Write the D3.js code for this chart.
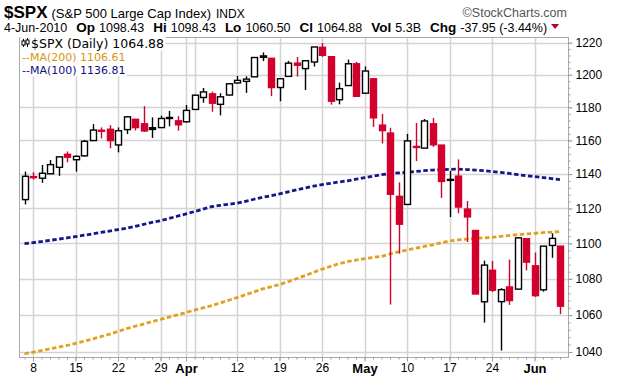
<!DOCTYPE html>
<html>
<head>
<meta charset="utf-8">
<script src="https://cdn.jsdelivr.net/npm/d3@7"></script>
<style>
  body { margin: 0; background: #fff; }
  svg { display: block; }
</style>
</head>
<body>
<svg id="chart" width="620" height="379"></svg>
<script>
// trading days shown, Mar 5 .. Jun 4 2010
const dates = [
  "2010-03-05","2010-03-08","2010-03-09","2010-03-10","2010-03-11","2010-03-12",
  "2010-03-15","2010-03-16","2010-03-17","2010-03-18","2010-03-19",
  "2010-03-22","2010-03-23","2010-03-24","2010-03-25","2010-03-26",
  "2010-03-29","2010-03-30","2010-03-31","2010-04-01",
  "2010-04-05","2010-04-06","2010-04-07","2010-04-08","2010-04-09",
  "2010-04-12","2010-04-13","2010-04-14","2010-04-15","2010-04-16",
  "2010-04-19","2010-04-20","2010-04-21","2010-04-22","2010-04-23",
  "2010-04-26","2010-04-27","2010-04-28","2010-04-29","2010-04-30",
  "2010-05-03","2010-05-04","2010-05-05","2010-05-06","2010-05-07",
  "2010-05-10","2010-05-11","2010-05-12","2010-05-13","2010-05-14",
  "2010-05-17","2010-05-18","2010-05-19","2010-05-20","2010-05-21",
  "2010-05-24","2010-05-25","2010-05-26","2010-05-27","2010-05-28",
  "2010-06-01","2010-06-02","2010-06-03","2010-06-04"
];
const opens = [
  1125.1,1138.4,1137.6,1140.2,1144.0,1151.7,
  1148.5,1150.8,1159.9,1166.1,1166.7,
  1157.3,1166.5,1172.7,1170.0,1167.6,
  1167.7,1173.8,1171.8,1171.2,
  1178.7,1186.0,1188.2,1181.8,1187.5,
  1194.9,1195.9,1198.7,1210.8,1210.2,
  1192.1,1199.0,1207.2,1203.8,1207.9,
  1217.1,1211.2,1184.6,1193.3,1206.8,
  1188.6,1197.5,1169.2,1164.4,1127.0,
  1122.3,1156.4,1155.4,1170.0,1157.2,
  1136.5,1138.8,1119.6,1107.3,1067.3,
  1084.8,1067.4,1075.5,1074.3,1102.6,
  1087.3,1073.9,1098.8,1098.4
];
const highs = [
  1141.5,1141.1,1145.4,1148.3,1150.2,1153.4,
  1151.0,1160.3,1169.8,1167.8,1169.2,
  1167.8,1174.7,1173.0,1180.7,1173.9,
  1174.9,1177.8,1174.6,1181.4,
  1187.7,1191.8,1189.6,1188.6,1194.7,
  1199.2,1199.0,1210.7,1213.9,1210.2,
  1197.9,1208.6,1211.0,1208.8,1217.3,
  1219.8,1211.2,1195.1,1209.4,1208.0,
  1205.1,1197.5,1176.0,1167.6,1135.1,
  1163.9,1170.5,1172.9,1173.6,1157.2,
  1141.9,1148.7,1124.3,1107.3,1090.2,
  1090.0,1074.8,1090.8,1103.5,1102.6,
  1094.8,1098.4,1105.7,1098.4
];
const lows = [
  1122.3,1136.8,1134.9,1140.1,1139.0,1147.0,
  1141.5,1150.4,1159.9,1161.2,1155.3,
  1152.9,1163.8,1166.0,1165.1,1161.5,
  1167.7,1168.5,1165.8,1170.7,
  1178.7,1182.8,1177.3,1175.1,1187.2,
  1194.7,1188.8,1198.7,1208.5,1186.8,
  1183.7,1199.0,1198.9,1190.6,1205.1,
  1211.1,1181.6,1181.8,1193.3,1186.3,
  1188.6,1168.1,1158.2,1065.8,1094.2,
  1122.3,1147.7,1155.4,1156.1,1126.1,
  1115.0,1117.2,1100.7,1071.6,1055.9,
  1072.7,1040.8,1065.6,1074.3,1084.8,
  1069.9,1072.9,1091.8,1060.5
];
const closes = [
  1138.7,1138.5,1140.5,1145.6,1150.2,1150.0,
  1150.5,1159.5,1166.2,1165.8,1159.9,
  1165.8,1174.2,1167.7,1165.7,1166.6,
  1173.2,1173.3,1169.4,1178.1,
  1187.4,1189.4,1182.5,1186.4,1194.4,
  1196.5,1197.3,1210.7,1211.7,1192.1,
  1197.5,1207.2,1205.9,1208.7,1217.3,
  1212.1,1183.7,1191.4,1206.8,1186.7,
  1202.3,1173.6,1165.9,1128.2,1110.9,
  1159.7,1155.8,1171.7,1157.4,1135.7,
  1136.9,1120.8,1115.1,1071.6,1087.7,
  1073.7,1074.0,1068.0,1103.1,1089.4,
  1070.7,1098.4,1102.8,1064.9
];
const prevClose = 1123.0; // close of the day before the first candle

const ma200 = [
  1039.0,1039.9,1040.8,1041.7,1042.6,1043.5,1044.6,1045.8,1047.0,1048.3,
  1049.6,1051.1,1052.6,1053.9,1055.1,1056.4,1057.7,1058.9,1060.1,1061.4,
  1062.7,1063.9,1065.2,1066.6,1068.1,1069.6,1071.2,1072.8,1074.4,1075.6,
  1076.8,1078.4,1080.1,1081.8,1083.6,1085.4,1087.0,1088.5,1089.6,1090.5,
  1091.3,1092.0,1092.6,1094.0,1095.1,1096.2,1097.2,1098.2,1099.1,1100.3,
  1101.3,1101.9,1102.4,1102.8,1103.1,1103.4,1103.9,1104.4,1104.9,1105.3,
  1105.7,1106.1,1106.4,1106.6
];
const ma100 = [
  1099.8,1100.4,1101.0,1101.7,1102.4,1103.1,1103.8,1104.6,1105.4,1106.2,
  1107.0,1107.8,1108.6,1109.7,1110.8,1111.9,1112.9,1114.2,1115.5,1116.8,
  1118.2,1119.6,1121.0,1121.7,1122.4,1123.0,1124.1,1125.3,1126.4,1127.4,
  1128.4,1129.6,1130.8,1131.9,1132.9,1133.8,1134.6,1135.4,1136.1,1137.0,
  1137.9,1138.8,1139.7,1140.2,1140.7,1141.1,1141.5,1142.0,1142.4,1142.6,
  1142.8,1143.0,1142.7,1142.4,1142.0,1141.6,1141.0,1140.4,1139.7,1139.1,
  1138.6,1138.0,1137.4,1136.8
];

const yTicks = [1040,1060,1080,1100,1120,1140,1160,1180,1200,1220];
const xLabelDates = ["2010-03-08","2010-03-15","2010-03-22","2010-03-29","2010-04-01",
  "2010-04-12","2010-04-19","2010-04-26","2010-05-03","2010-05-10","2010-05-17",
  "2010-05-24","2010-06-01"];
const xLabels = ["8","15","22","29","Apr","12","19","26","May","10","17","24","Jun"];
const xGridDates = xLabelDates.concat(["2010-04-05"]);
const monthLabels = ["Apr","May","Jun"];

const headQuote = [["", "4-Jun-2010"], ["Op", "1098.43"], ["Hi", "1098.43"], ["Lo", "1060.50"],
  ["Cl", "1064.88"], ["Vol", "5.3B"], ["Chg", "-37.95 (-3.44%)"]];
const legendRows = [
  {label: "$SPX (Daily) 1064.88", color: "#000"},
  {label: "--MA(200) 1106.61", color: "#d9960f"},
  {label: "--MA(100) 1136.81", color: "#101080"}
];

const upCol = "#000", dnCol = "#d2002c";
const pL = 19.5, pR = 568.5, pT = 37.5, pB = 357.5;

const svg = d3.select("#chart");
const x = d3.scalePoint().domain(dates).range([24.5, 560]);
const y = d3.scaleLog().domain([1040, 1220]).range([352, 42.7]);

// grid
svg.append("g").selectAll("line").data(yTicks).join("line")
  .attr("x1", pL).attr("x2", pR)
  .attr("y1", d => Math.round(y(d)) + 0.5).attr("y2", d => Math.round(y(d)) + 0.5)
  .attr("stroke", "#d4d4d4").attr("stroke-width", 1.5);

svg.append("g").selectAll("line").data(xGridDates).join("line")
  .attr("x1", d => Math.round(x(d)) + 0.5).attr("x2", d => Math.round(x(d)) + 0.5)
  .attr("y1", pT).attr("y2", pB)
  .attr("stroke", "#d4d4d4").attr("stroke-width", 1.5);

// moving averages
const line = d3.line().x((d, i) => x(dates[i])).y(d => y(d));
svg.append("path").datum(ma200).attr("d", line)
  .attr("fill", "none").attr("stroke", "#e0a020")
  .attr("stroke-width", 2.8).attr("stroke-dasharray", "4.5,2.5");
svg.append("path").datum(ma100).attr("d", line)
  .attr("fill", "none").attr("stroke", "#16168a")
  .attr("stroke-width", 2.8).attr("stroke-dasharray", "4.5,2.5");

// candles
const bars = dates.map((d, i) => ({
  date: d, o: opens[i], h: highs[i], l: lows[i], c: closes[i],
  pc: i === 0 ? prevClose : closes[i - 1]
}));
const col = d => d.c < d.pc ? dnCol : upCol;
const bw = 6;
const cg = svg.append("g").selectAll("g").data(bars).join("g");
cg.append("line")
  .attr("x1", d => Math.round(x(d.date)) + 0.5).attr("x2", d => Math.round(x(d.date)) + 0.5)
  .attr("y1", d => y(d.h)).attr("y2", d => y(d.l))
  .attr("stroke", col).attr("stroke-width", 1.4);
cg.append("rect")
  .attr("x", d => Math.round(x(d.date)) + 0.5 - bw / 2)
  .attr("y", d => y(Math.max(d.o, d.c)))
  .attr("width", bw)
  .attr("height", d => Math.max(1, Math.abs(y(d.o) - y(d.c))))
  .attr("fill", d => d.c >= d.o ? "#fff" : col(d))
  .attr("stroke", col).attr("stroke-width", 1.4);

// frame
svg.append("rect").attr("x", pL).attr("y", pT)
  .attr("width", pR - pL).attr("height", pB - pT)
  .attr("fill", "none").attr("stroke", "#aaa").attr("stroke-width", 1);

// right axis
const yAxis = svg.append("g").attr("transform", `translate(${pR},0)`)
  .call(d3.axisRight(y).tickValues(yTicks).tickFormat(d3.format("d")).tickSize(4).tickPadding(3));
const yMinor = svg.append("g").attr("transform", `translate(${pR},0)`)
  .call(d3.axisRight(y).tickValues(d3.range(1040, 1221, 4)).tickFormat("").tickSize(2));
[yAxis, yMinor].forEach(g => {
  g.select(".domain").remove();
  g.selectAll("line").attr("stroke", "#999");
});
yAxis.selectAll("text").attr("fill", "#000")
  .style("font", "12px 'Liberation Sans', Arial, sans-serif");

// bottom axis
const xMinor = svg.append("g").attr("transform", `translate(0,${pB})`)
  .call(d3.axisBottom(x).tickValues(dates).tickFormat("").tickSize(2));
const xAxis = svg.append("g").attr("transform", `translate(0,${pB})`)
  .call(d3.axisBottom(x).tickValues(xLabelDates)
    .tickFormat((d, i) => xLabels[i]).tickSize(4).tickPadding(2));
[xAxis, xMinor].forEach(g => {
  g.select(".domain").remove();
  g.selectAll("line").attr("stroke", "#999");
});
xAxis.selectAll("text").attr("fill", "#000")
  .style("font-family", "'Liberation Sans', Arial, sans-serif")
  .style("font-size", d => monthLabels.includes(xLabels[xLabelDates.indexOf(d)]) ? "13px" : "12px")
  .style("font-weight", d => monthLabels.includes(xLabels[xLabelDates.indexOf(d)]) ? "bold" : "normal");

// legend
const lg = svg.append("g");
legendRows.forEach((r, i) => {
  const fs = i === 0 ? 12.5 : 11;
  const by = [47.5, 60.5, 73.5][i];
  const tx = i === 0 ? 31 : 22;
  const t = lg.append("text").attr("x", tx).attr("y", by)
    .attr("fill", r.color)
    .style("font", `${fs}px 'DejaVu Sans', Verdana, sans-serif`)
    .text(r.label);
  const bb = t.node().getBBox();
  lg.insert("rect", "text").attr("x", pL + 0.5).attr("y", bb.y)
    .attr("width", bb.x + bb.width - pL + 1).attr("height", bb.height)
    .attr("fill", "#fff");
});
// small candle glyph in front of the price row
const ic = lg.append("g").attr("stroke", "#000").attr("stroke-width", 1);
[[23.5, 39, 47, 41, 45], [27.5, 38, 47, 40, 44]].forEach(([cx, hi, lo, b1, b2]) => {
  ic.append("line").attr("x1", cx).attr("x2", cx).attr("y1", hi).attr("y2", lo);
  ic.append("rect").attr("x", cx - 1.5).attr("y", b1).attr("width", 3).attr("height", b2 - b1)
    .attr("fill", "#fff");
});

// header
const head = svg.append("g").style("font-family", "'Liberation Sans', Arial, sans-serif");
const t1 = head.append("text").attr("x", 4).attr("y", 18);
t1.append("tspan").attr("font-size", 17).attr("font-weight", "bold").text("$SPX");
t1.append("tspan").attr("font-size", 13).attr("dx", 4).text("(S&P 500 Large Cap Index)");
t1.append("tspan").attr("font-size", 12).attr("dx", 5).text("INDX");
head.append("text").attr("x", 567).attr("y", 17).attr("text-anchor", "end")
  .attr("font-size", 12.5).attr("fill", "#555").text("\u00a9StockCharts.com");

const t2 = head.append("text").attr("x", 4).attr("y", 32).attr("font-size", 12.5);
headQuote.forEach(([k, v], i) => {
  if (k) t2.append("tspan").attr("dx", 9).attr("font-weight", "bold").attr("font-size", 13.5).text(k);
  t2.append("tspan").attr("dx", k ? 4 : 0).text(v);
});
const tEnd = t2.node().getBBox();
head.append("path")
  .attr("d", `M${tEnd.x + tEnd.width + 4},${24}h8l-4,5z`)
  .attr("fill", "#b5002a");
</script>
</body>
</html>
